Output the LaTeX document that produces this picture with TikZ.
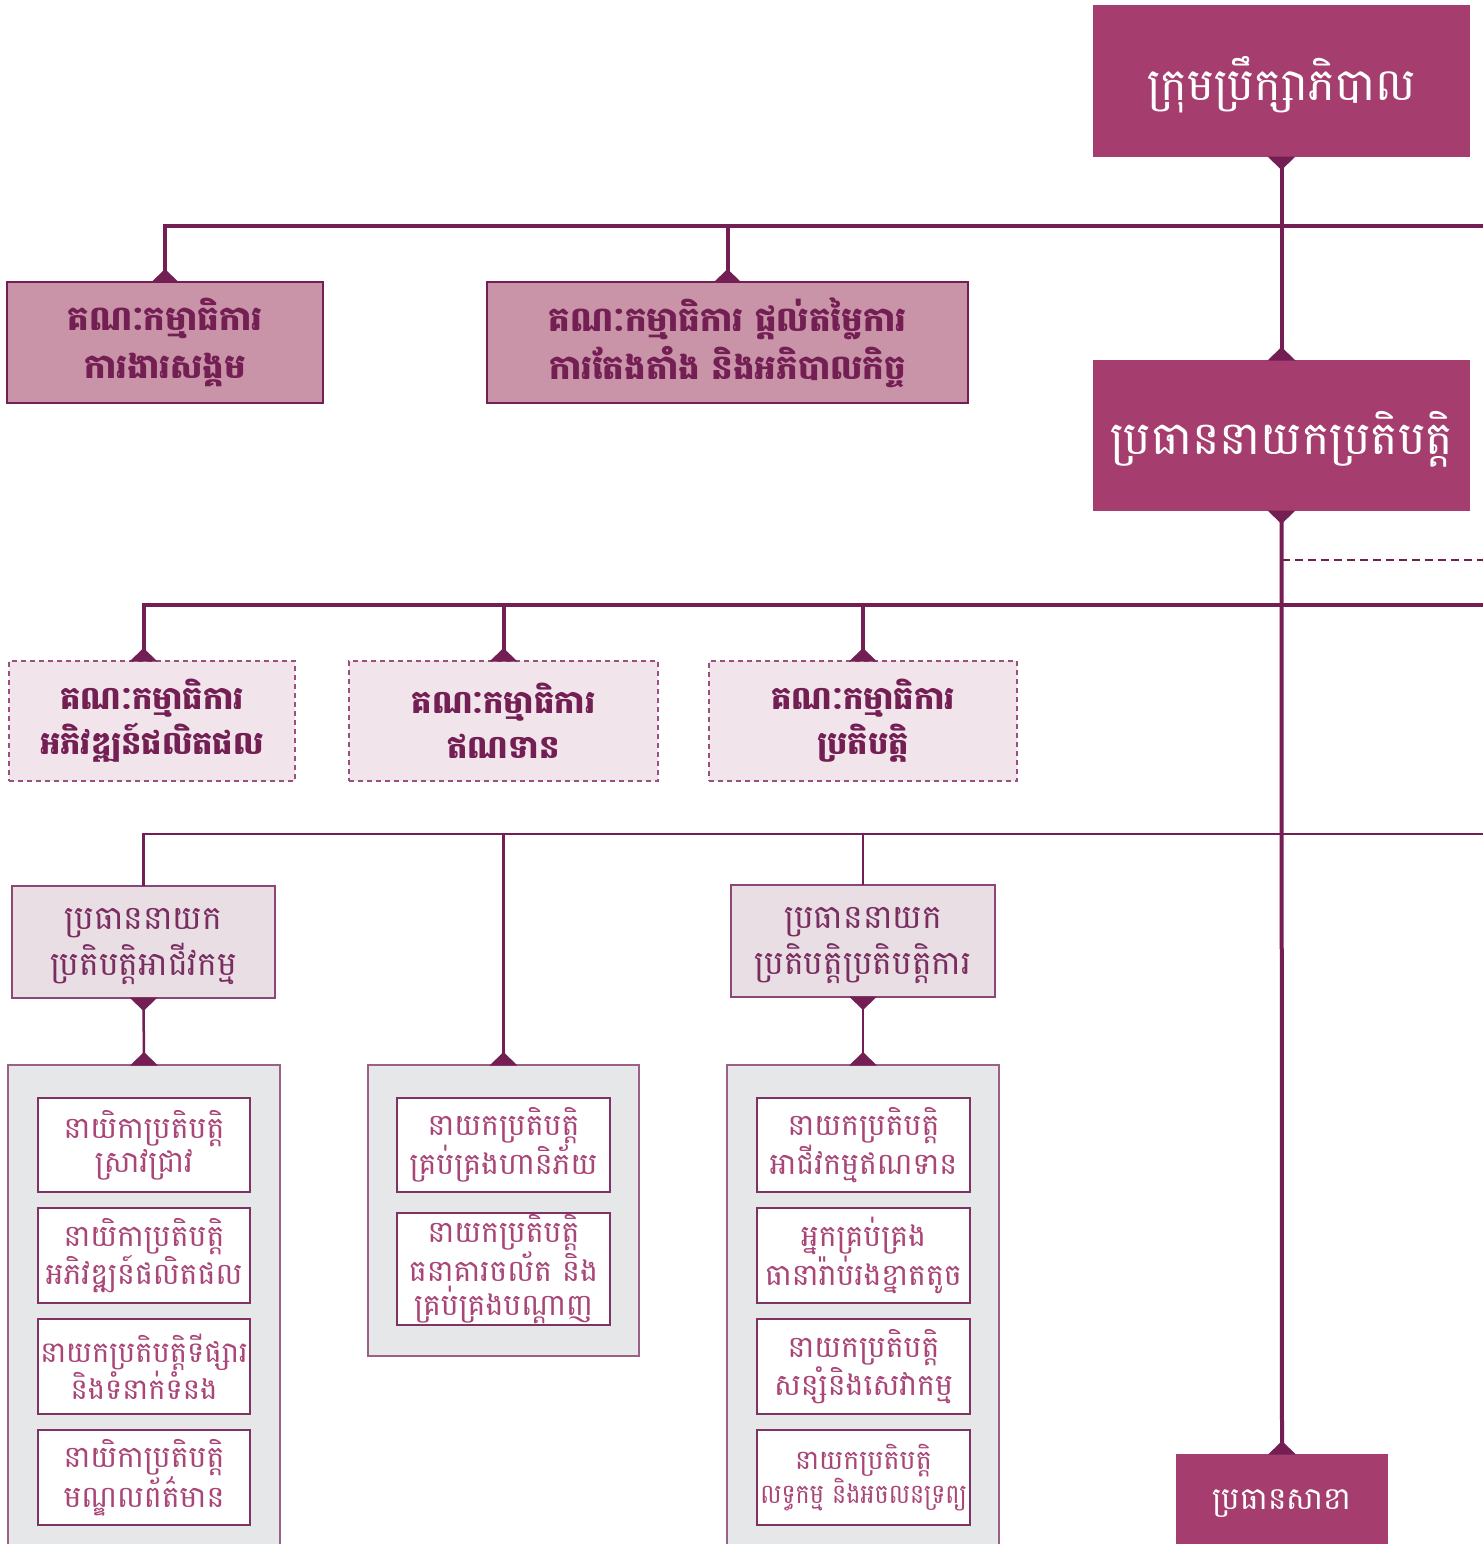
\documentclass[tikz,border=0pt]{standalone}
\usepackage{fontspec}
\newfontfamily\km[Script=Khmer]{Battambang}
\definecolor{mainfill}{HTML}{A53E6E}
\definecolor{darkline}{HTML}{741F54}
\definecolor{pinkfill}{HTML}{C993A8}
\definecolor{dashfill}{HTML}{F1E4EA}
\definecolor{dashborder}{HTML}{9A4F7E}
\definecolor{headfill}{HTML}{E9DEE4}
\definecolor{headborder}{HTML}{8D4777}
\definecolor{headtext}{HTML}{7A2D60}
\definecolor{grayfill}{HTML}{E6E7E8}
\definecolor{grayborder}{HTML}{9C5F88}
\definecolor{itemborder}{HTML}{7F3365}
\definecolor{itemtext}{HTML}{A94577}
\tikzset{
  base/.style={anchor=north west, inner sep=0pt, outer sep=0pt, align=center},
  topbox/.style={base, fill=mainfill, text=white},
  combox/.style={base, fill=pinkfill, draw=darkline, line width=1.2pt, text=darkline,
    font=\km\bfseries\fontsize{34}{48}\selectfont},
  dashbox/.style={base, fill=dashfill, draw=dashborder, line width=1.5pt, dash pattern=on 5pt off 4pt,
    text=darkline, font=\km\bfseries\fontsize{32}{45}\selectfont},
  headbox/.style={base, fill=headfill, draw=headborder, line width=1.5pt, text=headtext,
    font=\km\fontsize{33}{46}\selectfont, text depth=0pt},
  groupbox/.style={base, fill=grayfill, draw=grayborder, line width=1.5pt},
  itembox/.style={base, fill=white, draw=itemborder, line width=1.5pt, text=itemtext,
    font=\km\fontsize{30}{34}\selectfont},
  thickconn/.style={draw=darkline, line width=4pt},
  thinconn/.style={draw=darkline, line width=2.5pt},
  dashconn/.style={draw=darkline, line width=2.5pt, dash pattern=on 8pt off 5pt},
  uptri/.pic={\fill[darkline] (-14,0.5) -- (14,0.5) -- (0,-13) -- cycle;},
  downtri/.pic={\fill[darkline] (-14,-0.5) -- (14,-0.5) -- (0,13) -- cycle;}
}
\begin{document}
\begin{tikzpicture}[x=1pt,y=-1pt]
\clip (0,0) rectangle (1483,1544);
\fill[white] (0,0) rectangle (1483,1544);
% coordinates at right edge
\coordinate (busA) at (1483,226);
\coordinate (busB) at (1483,605);
\coordinate (busC) at (1483,834);
\coordinate (dashR) at (1483,560);
% top level
\node[topbox, minimum width=377pt, minimum height=152pt, text depth=6pt, font=\km\fontsize{45}{50}\selectfont] (board) at (1093,5) {ក្រុមប្រឹក្សាភិបាល};
\node[topbox, minimum width=377pt, minimum height=151pt, text depth=6pt, font=\km\fontsize{46}{50}\selectfont] (ceo) at (1093,360) {ប្រធាននាយកប្រតិបត្តិ};
\node[topbox, minimum width=212pt, minimum height=100pt, font=\km\fontsize{31}{34}\selectfont] (branch) at (1176,1454) {ប្រធានសាខា};
% board committees
\node[combox, minimum width=316pt, minimum height=121pt] (c1) at (7,282) {គណៈកម្មាធិការ\\ការងារសង្គម};
\node[combox, minimum width=481pt, minimum height=121pt] (c2) at (487,282) {គណៈកម្មាធិការ ផ្តល់តម្លៃការ\\ការតែងតាំង និងអភិបាលកិច្ច};
% management committees
\node[dashbox, minimum width=286pt, minimum height=120pt] (d1) at (9,661) {គណៈកម្មាធិការ\\អភិវឌ្ឍន៍ផលិតផល};
\node[dashbox, minimum width=309pt, minimum height=120pt] (d2) at (349,661) {គណៈកម្មាធិការ\\ឥណទាន};
\node[dashbox, minimum width=308pt, minimum height=120pt] (d3) at (709,661) {គណៈកម្មាធិការ\\ប្រតិបត្តិ};
% chiefs
\node[headbox, minimum width=263pt, minimum height=112pt] (h1) at (12,886) {ប្រធាននាយក\\ប្រតិបត្តិអាជីវកម្ម};
\node[headbox, minimum width=264pt, minimum height=112pt] (h2) at (731,885) {ប្រធាននាយក\\ប្រតិបត្តិប្រតិបត្តិការ};
% groups
\node[groupbox, minimum width=272pt, minimum height=520pt] (g1) at (8,1065) {};
\node[groupbox, minimum width=271pt, minimum height=291pt] (g2) at (368,1065) {};
\node[groupbox, minimum width=272pt, minimum height=520pt] (g3) at (727,1065) {};
% items left
\node[itembox, minimum width=212pt, minimum height=94pt] (l1) at (38,1098) {នាយិកាប្រតិបត្តិ\\ស្រាវជ្រាវ};
\node[itembox, minimum width=212pt, minimum height=95pt] (l2) at (38,1208) {នាយិកាប្រតិបត្តិ\\អភិវឌ្ឍន៍ផលិតផល};
\node[itembox, minimum width=212pt, minimum height=95pt, font=\km\fontsize{29}{34}\selectfont] (l3) at (38,1319) {នាយកប្រតិបត្តិទីផ្សារ\\និងទំនាក់ទំនង};
\node[itembox, minimum width=212pt, minimum height=95pt] (l4) at (38,1430) {នាយិកាប្រតិបត្តិ\\មណ្ឌលព័ត៌មាន};
% items middle
\node[itembox, minimum width=213pt, minimum height=94pt] (m1) at (397,1098) {នាយកប្រតិបត្តិ\\គ្រប់គ្រងហានិភ័យ};
\node[itembox, minimum width=213pt, minimum height=112pt] (m2) at (397,1213) {នាយកប្រតិបត្តិ\\ធនាគារចល័ត និង\\គ្រប់គ្រងបណ្តាញ};
% items right
\node[itembox, minimum width=213pt, minimum height=94pt] (r1) at (757,1098) {នាយកប្រតិបត្តិ\\អាជីវកម្មឥណទាន};
\node[itembox, minimum width=213pt, minimum height=95pt] (r2) at (757,1208) {អ្នកគ្រប់គ្រង\\ធានារ៉ាប់រងខ្នាតតូច};
\node[itembox, minimum width=213pt, minimum height=95pt] (r3) at (757,1319) {នាយកប្រតិបត្តិ\\សន្សំនិងសេវាកម្ម};
\node[itembox, minimum width=213pt, minimum height=95pt, font=\km\fontsize{27}{34}\selectfont] (r4) at (757,1430) {នាយកប្រតិបត្តិ\\\scalebox{0.88}[1]{លទ្ធកម្ម និងអចលនទ្រព្យ}};
% connectors
\coordinate (d1top) at (h1.north |- d1.north);
\draw[thickconn] (board.south) -- (ceo.north);
\draw[thickconn] (c1.north) |- (busA);
\draw[thickconn] (c2.north) -- (c2.north |- busA);
\draw[thickconn] (ceo.south) -- (branch.north);
\draw[dashconn] (ceo.south |- dashR) -- (dashR);
\draw[thickconn] (d1top) |- (busB);
\draw[thickconn] (d2.north) -- (d2.north |- busB);
\draw[thickconn] (d3.north) -- (d3.north |- busB);
\draw[thinconn] (h1.north) |- (busC);
\draw[thinconn] (g2.north) -- (g2.north |- busC);
\draw[thinconn] (h2.north) -- (h2.north |- busC);
\draw[thinconn] (h1.south) -- (g1.north);
\draw[thinconn] (h2.south) -- (g3.north);
% markers
\pic at (board.south) {downtri};
\pic at (ceo.north) {uptri};
\pic at (ceo.south) {downtri};
\pic at (branch.north) {uptri};
\pic at (c1.north) {uptri};
\pic at (c2.north) {uptri};
\pic at (d1top) {uptri};
\pic at (d2.north) {uptri};
\pic at (d3.north) {uptri};
\pic at (h1.south) {downtri};
\pic at (h2.south) {downtri};
\pic at (g1.north) {uptri};
\pic at (g2.north) {uptri};
\pic at (g3.north) {uptri};
\end{tikzpicture}
\end{document}
